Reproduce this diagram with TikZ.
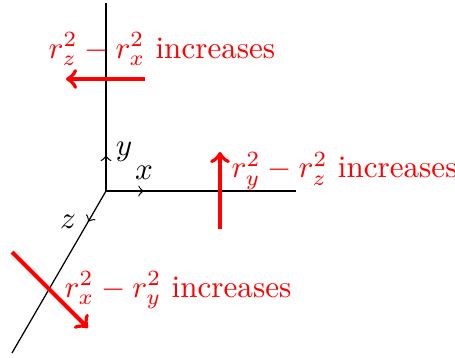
\documentclass[tikz,border=0pt]{standalone}
\usetikzlibrary{decorations.markings}
\begin{document}
\begin{tikzpicture}[x=0.3214pt,y=-0.3214pt,
  axis/.style={black,line width=0.4pt},
  redarrow/.style={red,line width=1.3pt,->},
  redlabel/.style={red,inner sep=0pt,anchor=base west},
  axlabel/.style={inner sep=0pt}]
\useasboundingbox (0,0) rectangle (455,358);
\coordinate (O) at (106,191);
\coordinate (Y) at (106,3);
\coordinate (X) at (296,191);
\coordinate (Z) at (12,353);
\draw[axis,postaction={decorate},decoration={markings,mark=at position 0.19 with {\arrow{>}}}] (O) -- (Y);
\draw[axis,postaction={decorate},decoration={markings,mark=at position 0.2 with {\arrow{>}}}] (O) -- (X);
\draw[axis,postaction={decorate},decoration={markings,mark=at position 0.19 with {\arrow{>}}}] (O) -- (Z);
\node[axlabel] (ly) at (124,152) {$y$};
\node[axlabel] (lx) at (144,173) {$x$};
\node[axlabel] (lz) at (68,222) {$z$};
% top
\coordinate (a1) at (145,79);
\coordinate (b1) at (66,79);
\draw[redarrow] (a1) -- (b1);
\node[redlabel] (t1) at (48,58) {$r_z^2-r_x^2$ increases};
% right
\coordinate (a2) at (220,229);
\coordinate (b2) at (220,152);
\draw[redarrow] (a2) -- (b2);
\node[redlabel] (t2) at (231,178) {$r_y^2-r_z^2$ increases};
% bottom
\coordinate (a3) at (12,252);
\coordinate (b3) at (88,328);
\draw[redarrow] (a3) -- (b3);
\node[redlabel] (t3) at (64,297) {$r_x^2-r_y^2$ increases};
\end{tikzpicture}
\end{document}
